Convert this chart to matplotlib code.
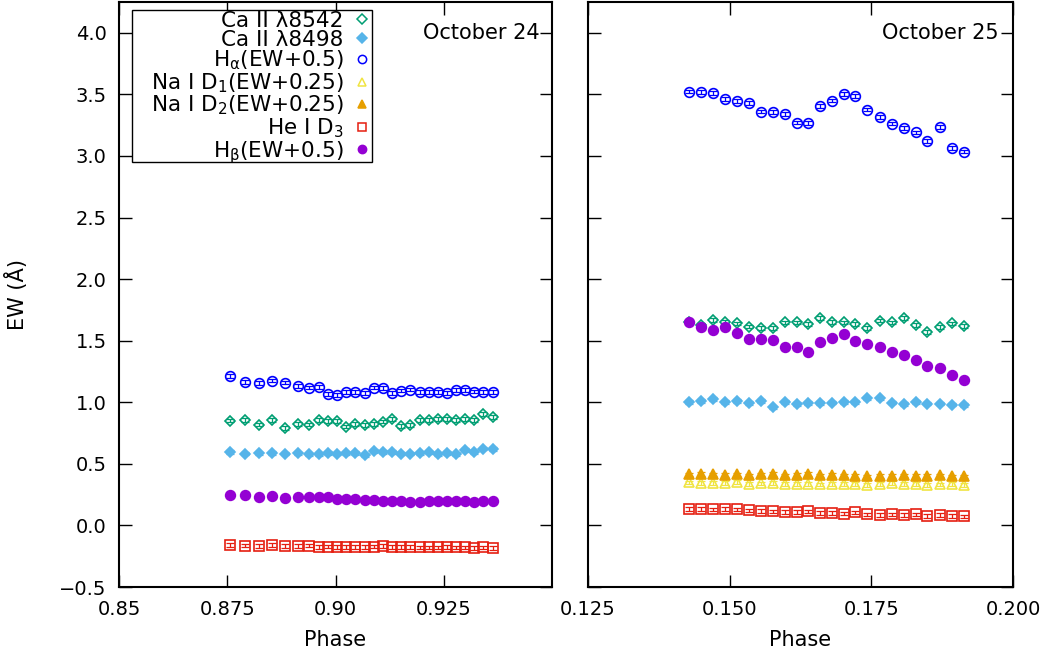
import matplotlib.pyplot as plt
from matplotlib.lines import Line2D
from matplotlib.patches import Rectangle

# phases of the spectra on each night
phase_oct24 = [0.8757, 0.8792, 0.8823, 0.8853, 0.8883, 0.8914, 0.8939, 0.8961, 0.8982,
               0.9003, 0.9024, 0.9045, 0.9067, 0.9088, 0.9109, 0.9131, 0.9151, 0.9172,
               0.9194, 0.9215, 0.9236, 0.9257, 0.9278, 0.9300, 0.9320, 0.9341, 0.9363]
phase_oct25 = [0.1429, 0.1449, 0.1471, 0.1492, 0.1513, 0.1534, 0.1555, 0.1576, 0.1597,
               0.1618, 0.1639, 0.1659, 0.1681, 0.1702, 0.1722, 0.1743, 0.1765, 0.1787,
               0.1807, 0.1828, 0.1849, 0.1871, 0.1892, 0.1913]

# equivalent widths, October 24
ca8542_24 = [0.851, 0.854, 0.819, 0.859, 0.794, 0.824, 0.819, 0.857, 0.846, 0.846, 0.803,
             0.824, 0.816, 0.821, 0.843, 0.867, 0.808, 0.813, 0.859, 0.859, 0.867, 0.867,
             0.859, 0.862, 0.859, 0.906, 0.878]
ca8498_24 = [0.597, 0.583, 0.585, 0.591, 0.583, 0.585, 0.577, 0.580, 0.591, 0.583, 0.585,
             0.591, 0.572, 0.607, 0.597, 0.599, 0.583, 0.583, 0.585, 0.593, 0.577, 0.589,
             0.580, 0.610, 0.597, 0.624, 0.618]
halpha_24 = [1.211, 1.166, 1.154, 1.176, 1.160, 1.133, 1.120, 1.122, 1.065, 1.060, 1.085,
             1.085, 1.076, 1.120, 1.114, 1.073, 1.095, 1.103, 1.085, 1.085, 1.081, 1.076,
             1.098, 1.101, 1.087, 1.085, 1.085]
hei_24 = [-0.160, -0.163, -0.168, -0.160, -0.165, -0.168, -0.163, -0.173, -0.171, -0.176,
          -0.176, -0.176, -0.176, -0.171, -0.165, -0.176, -0.176, -0.176, -0.179, -0.179,
          -0.179, -0.176, -0.179, -0.179, -0.181, -0.179, -0.181]
hbeta_24 = [0.247, 0.244, 0.231, 0.236, 0.225, 0.228, 0.231, 0.228, 0.228, 0.217, 0.217,
            0.215, 0.207, 0.207, 0.198, 0.201, 0.201, 0.193, 0.193, 0.195, 0.195, 0.195,
            0.195, 0.195, 0.193, 0.201, 0.198]

# equivalent widths, October 25
ca8542_25 = [1.650, 1.631, 1.666, 1.650, 1.640, 1.615, 1.605, 1.605, 1.648, 1.648, 1.637,
             1.683, 1.650, 1.648, 1.637, 1.602, 1.664, 1.648, 1.683, 1.626, 1.572, 1.609,
             1.640, 1.618]
ca8498_25 = [1.001, 1.012, 1.025, 1.001, 1.009, 0.993, 1.009, 0.958, 1.004, 0.988, 0.996,
             0.993, 0.998, 1.004, 1.004, 1.031, 1.031, 0.998, 0.988, 1.001, 0.990, 0.990,
             0.982, 0.976]
halpha_25 = [3.523, 3.521, 3.513, 3.464, 3.445, 3.431, 3.361, 3.358, 3.340, 3.271, 3.269,
             3.407, 3.450, 3.504, 3.488, 3.377, 3.315, 3.263, 3.228, 3.191, 3.121, 3.236,
             3.066, 3.036]
nad1_25 = [0.349, 0.347, 0.347, 0.347, 0.352, 0.339, 0.341, 0.344, 0.339, 0.339, 0.339,
           0.333, 0.336, 0.339, 0.339, 0.331, 0.339, 0.344, 0.339, 0.339, 0.331, 0.333,
           0.336, 0.331]
nad2_25 = [0.414, 0.416, 0.414, 0.408, 0.414, 0.406, 0.414, 0.416, 0.406, 0.408, 0.416,
           0.406, 0.408, 0.406, 0.400, 0.398, 0.400, 0.403, 0.406, 0.403, 0.403, 0.406,
           0.398, 0.398]
hei_25 = [0.136, 0.132, 0.130, 0.132, 0.130, 0.122, 0.119, 0.114, 0.108, 0.108, 0.114,
          0.100, 0.103, 0.097, 0.106, 0.089, 0.087, 0.089, 0.087, 0.089, 0.076, 0.087,
          0.078, 0.073]
hbeta_25 = [1.653, 1.615, 1.583, 1.610, 1.561, 1.515, 1.515, 1.504, 1.450, 1.445, 1.410,
            1.488, 1.523, 1.558, 1.496, 1.477, 1.453, 1.407, 1.385, 1.347, 1.291, 1.282,
            1.223, 1.183]

ew_err = 0.015

labels = ['Ca II λ8542', 'Ca II λ8498', r'H$_\mathrm{α}$(EW+0.5)', r'Na I D$_1$(EW+0.25)',
          r'Na I D$_2$(EW+0.25)', r'He I D$_3$', r'H$_\mathrm{β}$(EW+0.5)']

# (marker, colour, filled, size) per line
styles = [('D', '#009e73', False, 5.5),
          ('D', '#56b4e9', True, 5.5),
          ('o', '#0000ff', False, 7),
          ('^', '#f0e442', False, 7),
          ('^', '#e69f00', True, 7),
          ('s', '#e51e10', False, 7),
          ('o', '#9400d3', True, 7)]

night24 = [ca8542_24, ca8498_24, halpha_24, None, None, hei_24, hbeta_24]
night25 = [ca8542_25, ca8498_25, halpha_25, nad1_25, nad2_25, hei_25, hbeta_25]

plt.rcParams['font.family'] = ['DejaVu Sans']

fig = plt.figure(figsize=(10.45, 6.57), dpi=100)
ax1 = fig.add_axes([0.1139, 0.1065, 0.4144, 0.8904])
ax2 = fig.add_axes([0.5627, 0.1065, 0.4067, 0.8904])


def draw_night(ax, phase, series):
    for vals, (mk, col, filled, ms) in zip(series, styles):
        if vals is None:
            continue
        ax.errorbar(phase, vals, yerr=ew_err, fmt='none', ecolor=col,
                    elinewidth=0.9, capsize=3, capthick=0.9)
        ax.plot(phase, vals, linestyle='none', marker=mk, markersize=ms,
                markeredgecolor=col, markerfacecolor=col if filled else 'none',
                markeredgewidth=1.2)


draw_night(ax1, phase_oct24, night24)
draw_night(ax2, phase_oct25, night25)

for ax in (ax1, ax2):
    ax.set_ylim(-0.5, 4.25)
    ax.set_yticks([-0.5, 0.0, 0.5, 1.0, 1.5, 2.0, 2.5, 3.0, 3.5, 4.0])
    ax.tick_params(direction='in', length=9, width=1, top=True, right=True,
                   labelsize=14, pad=9)
    for sp in ax.spines.values():
        sp.set_linewidth(1.5)
    ax.set_xlabel('Phase', fontsize=15, labelpad=8)

ax1.set_xlim(0.85, 0.95)
ax1.set_xticks([0.85, 0.875, 0.90, 0.925], ['0.85', '0.875', '0.90', '0.925'])
ax2.set_xlim(0.125, 0.200)
ax2.set_xticks([0.125, 0.150, 0.175, 0.200], ['0.125', '0.150', '0.175', '0.200'])
ax2.tick_params(labelleft=False)

ax1.text(0.972, 0.947, 'October 24', transform=ax1.transAxes, ha='right', va='center',
         fontsize=15)
ax2.text(0.965, 0.947, 'October 25', transform=ax2.transAxes, ha='right', va='center',
         fontsize=15)

fig.text(0.016, 0.551, 'EW (Å)', rotation=90, ha='center', va='center', fontsize=15)

# key box drawn separately so the text can sit right-aligned inside it
ax1.add_patch(Rectangle((0.030, 0.7265), 0.555, 0.2595, transform=ax1.transAxes,
                        facecolor='white', edgecolor='black', linewidth=1.0, zorder=4))
handles = [Line2D([], [], linestyle='none', marker=mk, markersize=ms * 0.85,
                  markeredgecolor=col, markerfacecolor=col if filled else 'none',
                  markeredgewidth=1.1)
           for mk, col, filled, ms in styles]
leg = ax1.legend(handles, labels, loc='upper right', bbox_to_anchor=(0.587, 0.985),
                 markerfirst=False, fontsize=15.5, frameon=False, borderpad=0,
                 labelspacing=-0.05, handlelength=1.0, handletextpad=0.38,
                 borderaxespad=0)
leg.set_zorder(5)

fig.savefig('out.png', dpi=100)
